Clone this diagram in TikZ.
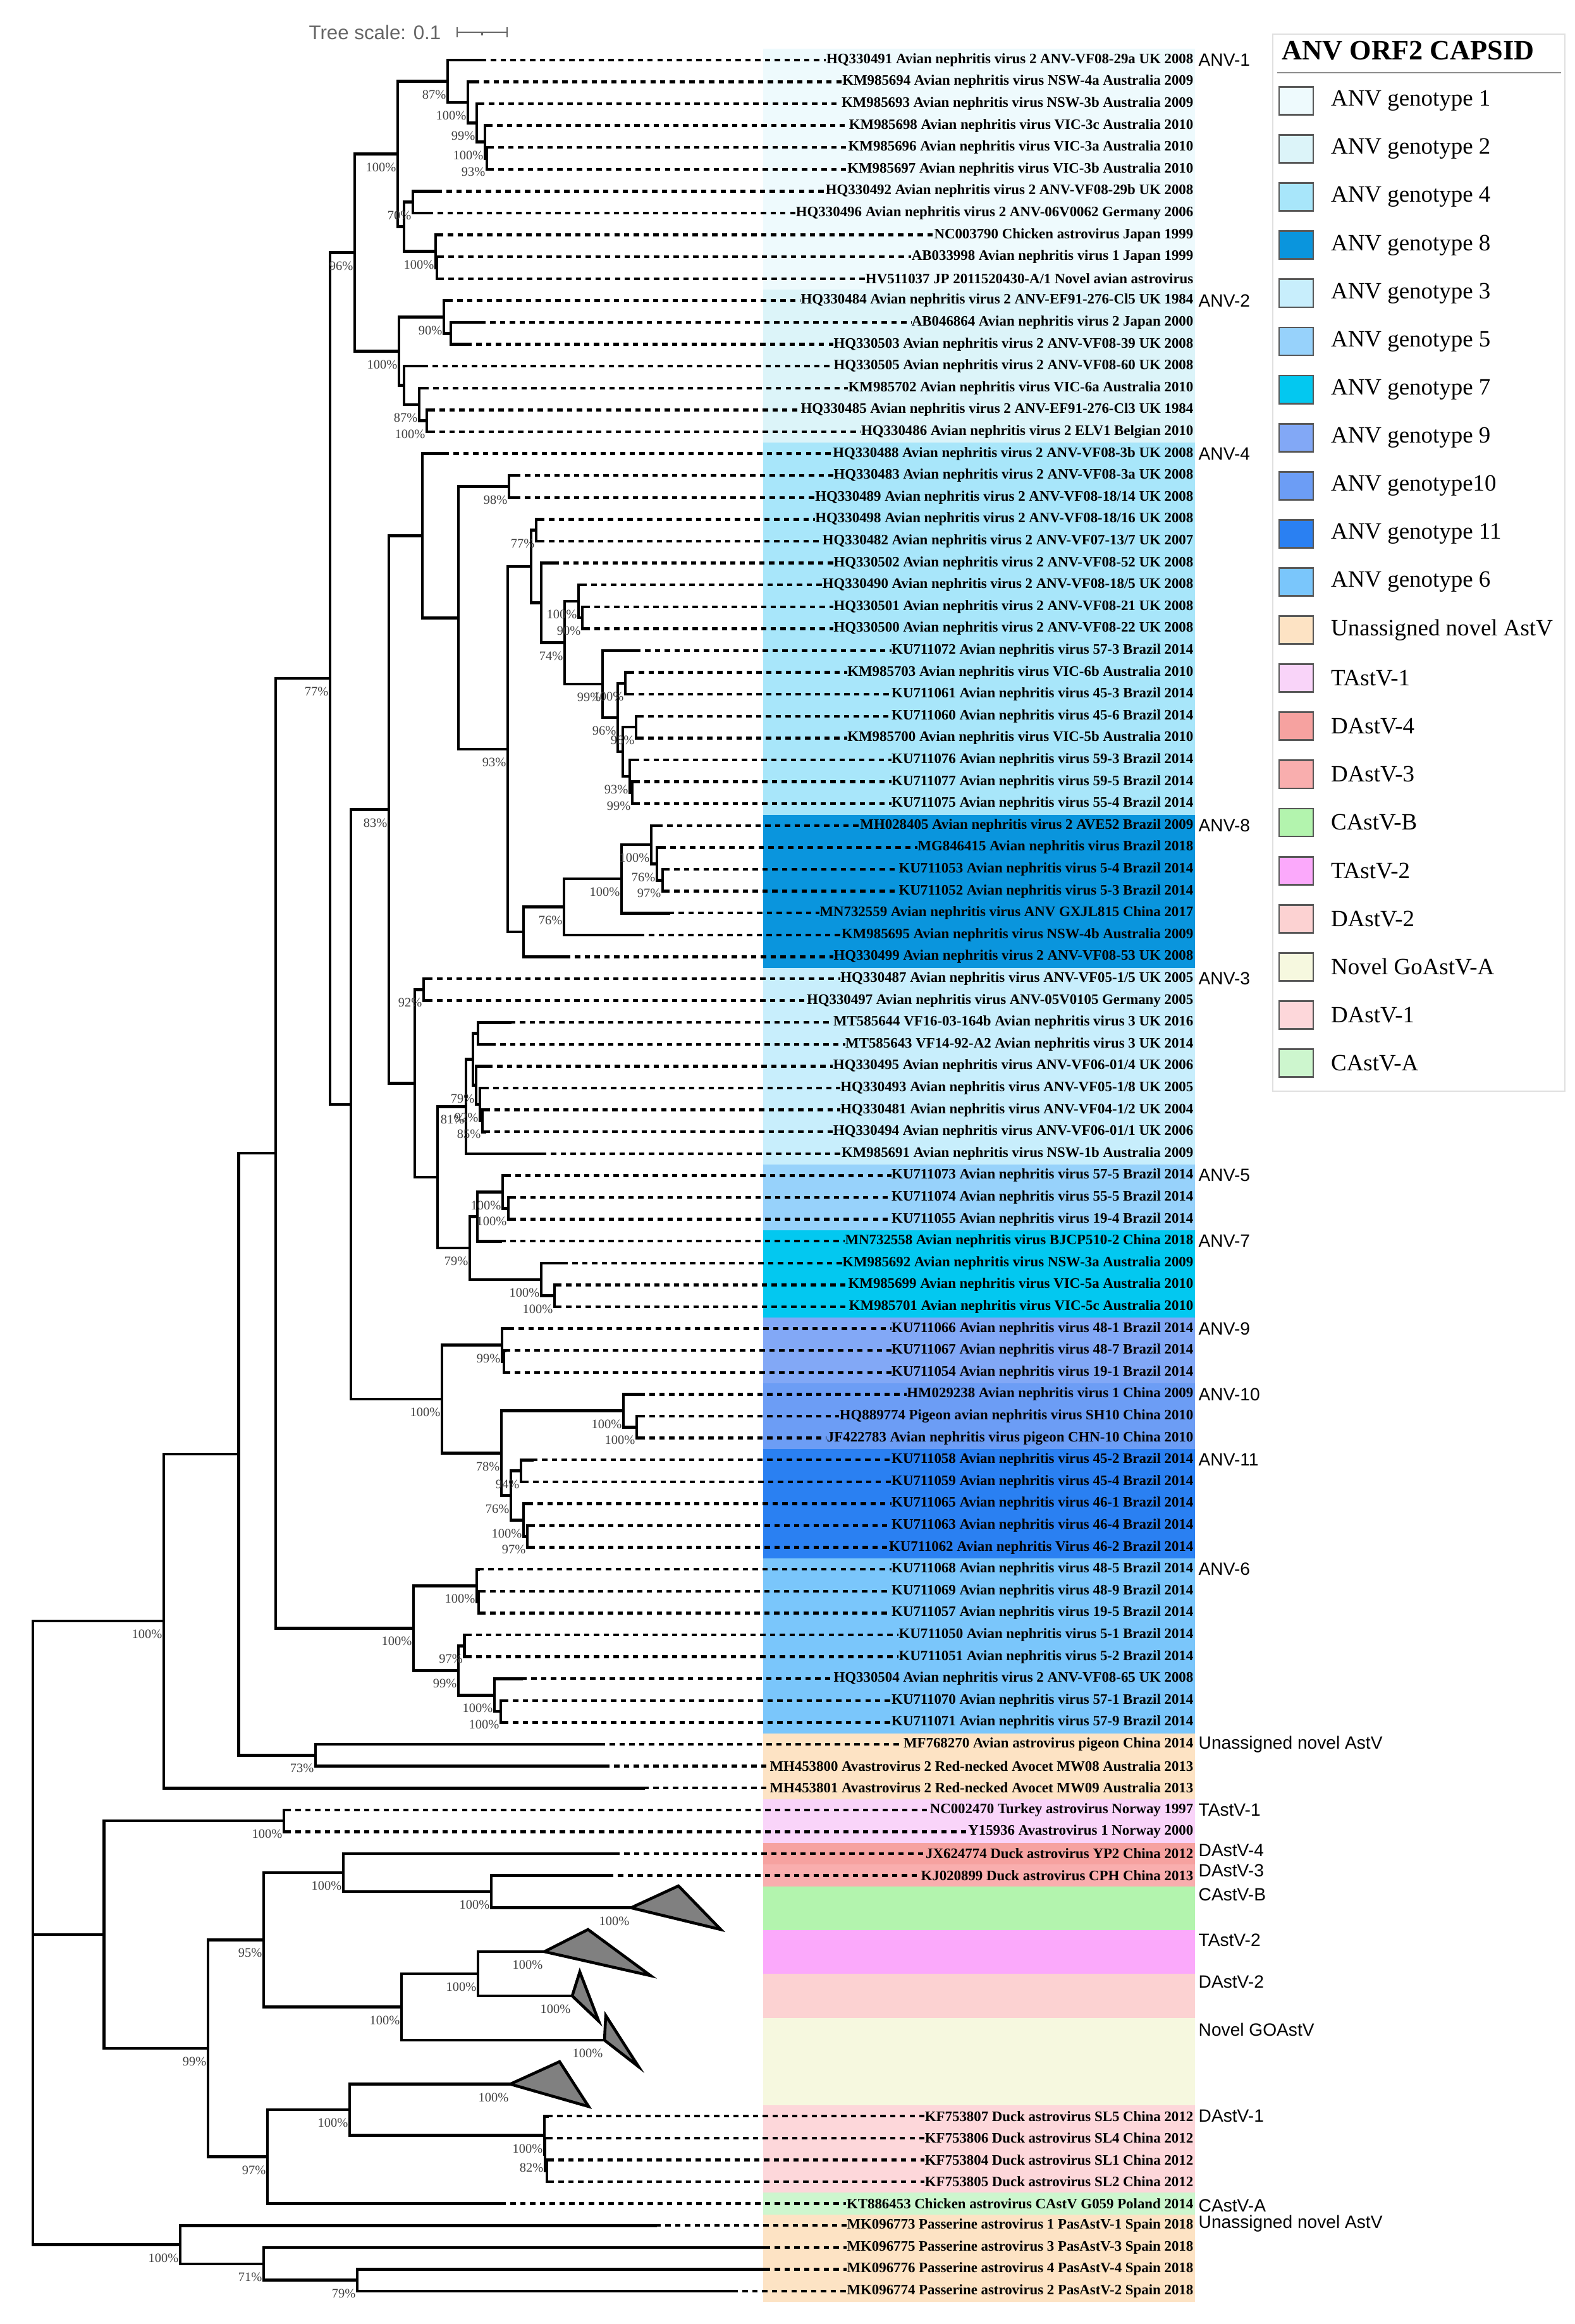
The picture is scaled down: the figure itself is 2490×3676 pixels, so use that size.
\documentclass[tikz,border=0pt]{standalone}
\usepackage{fontspec}
\setmainfont{Liberation Serif}
\newfontfamily\cladefont{Liberation Sans}
\usetikzlibrary{positioning}
\definecolor{g1}{HTML}{EEFAFD}
\definecolor{g2}{HTML}{DCF4F9}
\definecolor{g4}{HTML}{A8E6FA}
\definecolor{g8}{HTML}{0A95DD}
\definecolor{g3}{HTML}{C8EEFC}
\definecolor{g5}{HTML}{97D2FB}
\definecolor{g7}{HTML}{03C8F0}
\definecolor{g9}{HTML}{82A8F6}
\definecolor{g10}{HTML}{6C9DF5}
\definecolor{g11}{HTML}{2A80F2}
\definecolor{g6}{HTML}{7AC6FB}
\definecolor{ua}{HTML}{FDE3C4}
\definecolor{ta1}{HTML}{F9D4F9}
\definecolor{da4}{HTML}{F6A2A0}
\definecolor{da3}{HTML}{F9AEAE}
\definecolor{caB}{HTML}{B3F4AE}
\definecolor{ta2}{HTML}{FBA9FB}
\definecolor{da2}{HTML}{FCD2D2}
\definecolor{gng}{HTML}{F6F8DF}
\definecolor{da1}{HTML}{FDD7DA}
\definecolor{caA}{HTML}{CDF6CE}
\tikzset{
 branch/.style
  = {line width=1.3pt, line cap=rect},
 dotline/.style
  = {line width=1.25pt, dash pattern=on 2.4pt off 2pt},
 leaf/.style
  = {anchor=east, inner sep=0pt, font=\bfseries\fontsize{6.5}{7}\selectfont},
 boot/.style
  = {anchor=east, inner sep=0pt, xshift=-0.2mm, yshift=-2.1mm, text=black!75,
     font=\fontsize{5.8}{6}\selectfont},
 clade/.style
  = {anchor=west, inner sep=0pt, font=\cladefont\fontsize{8}{9}\selectfont},
 collapsed/.style
  = {draw, line width=1.3pt, fill=black!50, line join=miter},
 swatch/.style
  = {draw=black!65, line width=0.8pt, minimum width=0.54cm, minimum height=0.44cm, inner sep=0pt},
 legtext/.style
  = {inner sep=0pt, font=\fontsize{10.5}{12}\selectfont},
}

\begin{document}
\begin{tikzpicture}[x=0.01cm, y=-0.01cm]
\useasboundingbox (0,0) rectangle (2490,3676);

% Colour bands
\foreach \col/\ra/\rb in {g1/1/11, g2/12/18, g4/19/35, g8/36/42, g3/43/51, g5/52/54, g7/55/58,
  g9/59/61, g10/62/64, g11/65/69, g6/70/77, ua/78/80, ta1/81/82, da4/83/83, da3/84/84,
  caB/85/86, ta2/87/88, da2/89/90, gng/91/94, da1/95/98, caA/99/99, ua/100/103}
  \fill[fill=\col] (1207,{42.9+34.6*\ra}) rectangle (1890,{42.9+34.6*(\rb+1)});

% Leaves
\foreach \i/\x/\txt in {
  1/761/{HQ330491 Avian nephritis virus 2 ANV-VF08-29a UK 2008},
  2/750/{KM985694 Avian nephritis virus NSW-4a Australia 2009},
  3/758/{KM985693 Avian nephritis virus NSW-3b Australia 2009},
  4/771/{KM985698 Avian nephritis virus VIC-3c Australia 2010},
  5/773/{KM985696 Avian nephritis virus VIC-3a Australia 2010},
  6/773/{KM985697 Avian nephritis virus VIC-3b Australia 2010},
  7/691/{HQ330492 Avian nephritis virus 2 ANV-VF08-29b UK 2008},
  8/677/{HQ330496 Avian nephritis virus 2 ANV-06V0062 Germany 2006},
  9/693/{NC003790 Chicken astrovirus Japan 1999},
  10/694/{AB033998 Avian nephritis virus 1 Japan 1999},
  11/694/{HV511037 JP 2011520430-A/1 Novel avian astrovirus},
  12/708/{HQ330484 Avian nephritis virus 2 ANV-EF91-276-Cl5 UK 1984},
  13/760/{AB046864 Avian nephritis virus 2 Japan 2000},
  14/738/{HQ330503 Avian nephritis virus 2 ANV-VF08-39 UK 2008},
  15/669/{HQ330505 Avian nephritis virus 2 ANV-VF08-60 UK 2008},
  16/670/{KM985702 Avian nephritis virus VIC-6a Australia 2010},
  17/680/{HQ330485 Avian nephritis virus 2 ANV-EF91-276-Cl3 UK 1984},
  18/680/{HQ330486 Avian nephritis virus 2 ELV1 Belgian 2010},
  19/702/{HQ330488 Avian nephritis virus 2 ANV-VF08-3b UK 2008},
  20/815/{HQ330483 Avian nephritis virus 2 ANV-VF08-3a UK 2008},
  21/815/{HQ330489 Avian nephritis virus 2 ANV-VF08-18/14 UK 2008},
  22/853/{HQ330498 Avian nephritis virus 2 ANV-VF08-18/16 UK 2008},
  23/853/{HQ330482 Avian nephritis virus 2 ANV-VF07-13/7 UK 2007},
  24/876/{HQ330502 Avian nephritis virus 2 ANV-VF08-52 UK 2008},
  25/920/{HQ330490 Avian nephritis virus 2 ANV-VF08-18/5 UK 2008},
  26/925/{HQ330501 Avian nephritis virus 2 ANV-VF08-21 UK 2008},
  27/925/{HQ330500 Avian nephritis virus 2 ANV-VF08-22 UK 2008},
  28/1005/{KU711072 Avian nephritis virus 57-3 Brazil 2014},
  29/995/{KM985703 Avian nephritis virus VIC-6b Australia 2010},
  30/995/{KU711061 Avian nephritis virus 45-3 Brazil 2014},
  31/1010/{KU711060 Avian nephritis virus 45-6 Brazil 2014},
  32/1010/{KM985700 Avian nephritis virus VIC-5b Australia 2010},
  33/1003/{KU711076 Avian nephritis virus 59-3 Brazil 2014},
  34/1004/{KU711077 Avian nephritis virus 59-5 Brazil 2014},
  35/1004/{KU711075 Avian nephritis virus 55-4 Brazil 2014},
  36/1040/{MH028405 Avian nephritis virus 2 AVE52 Brazil 2009},
  37/1045/{MG846415 Avian nephritis virus Brazil 2018},
  38/1051/{KU711053 Avian nephritis virus 5-4 Brazil 2014},
  39/1051/{KU711052 Avian nephritis virus 5-3 Brazil 2014},
  40/1058/{MN732559 Avian nephritis virus ANV GXJL815 China 2017},
  41/1011/{KM985695 Avian nephritis virus NSW-4b Australia 2009},
  42/894/{HQ330499 Avian nephritis virus 2 ANV-VF08-53 UK 2008},
  43/676/{HQ330487 Avian nephritis virus ANV-VF05-1/5 UK 2005},
  44/676/{HQ330497 Avian nephritis virus ANV-05V0105 Germany 2005},
  45/807/{MT585644 VF16-03-164b Avian nephritis virus 3 UK 2016},
  46/776/{MT585643 VF14-92-A2 Avian nephritis virus 3 UK 2014},
  47/771/{HQ330495 Avian nephritis virus ANV-VF06-01/4 UK 2006},
  48/765/{HQ330493 Avian nephritis virus ANV-VF05-1/8 UK 2005},
  49/767/{HQ330481 Avian nephritis virus ANV-VF04-1/2 UK 2004},
  50/767/{HQ330494 Avian nephritis virus ANV-VF06-01/1 UK 2006},
  51/856/{KM985691 Avian nephritis virus NSW-1b Australia 2009},
  52/800/{KU711073 Avian nephritis virus 57-5 Brazil 2014},
  53/808/{KU711074 Avian nephritis virus 55-5 Brazil 2014},
  54/808/{KU711055 Avian nephritis virus 19-4 Brazil 2014},
  55/792/{MN732558 Avian nephritis virus BJCP510-2 China 2018},
  56/890/{KM985692 Avian nephritis virus NSW-3a Australia 2009},
  57/880/{KM985699 Avian nephritis virus VIC-5a Australia 2010},
  58/880/{KM985701 Avian nephritis virus VIC-5c Australia 2010},
  59/805/{KU711066 Avian nephritis virus 48-1 Brazil 2014},
  60/799/{KU711067 Avian nephritis virus 48-7 Brazil 2014},
  61/799/{KU711054 Avian nephritis virus 19-1 Brazil 2014},
  62/1012/{HM029238 Avian nephritis virus 1 China 2009},
  63/1012/{HQ889774 Pigeon avian nephritis virus SH10 China 2010},
  64/1012/{JF422783 Avian nephritis virus pigeon CHN-10 China 2010},
  65/842/{KU711058 Avian nephritis virus 45-2 Brazil 2014},
  66/828/{KU711059 Avian nephritis virus 45-4 Brazil 2014},
  67/835/{KU711065 Avian nephritis virus 46-1 Brazil 2014},
  68/838/{KU711063 Avian nephritis virus 46-4 Brazil 2014},
  69/838/{KU711062 Avian nephritis Virus 46-2 Brazil 2014},
  70/757/{KU711068 Avian nephritis virus 48-5 Brazil 2014},
  71/760/{KU711069 Avian nephritis virus 48-9 Brazil 2014},
  72/760/{KU711057 Avian nephritis virus 19-5 Brazil 2014},
  73/738/{KU711050 Avian nephritis virus 5-1 Brazil 2014},
  74/738/{KU711051 Avian nephritis virus 5-2 Brazil 2014},
  75/825/{HQ330504 Avian nephritis virus 2 ANV-VF08-65 UK 2008},
  76/796/{KU711070 Avian nephritis virus 57-1 Brazil 2014},
  77/796/{KU711071 Avian nephritis virus 57-9 Brazil 2014},
  78/949/{MF768270 Avian astrovirus pigeon China 2014},
  79/956/{MH453800 Avastrovirus 2 Red-necked Avocet MW08 Australia 2013},
  80/1018/{MH453801 Avastrovirus 2 Red-necked Avocet MW09 Australia 2013},
  81/452/{NC002470 Turkey astrovirus Norway 1997},
  82/452/{Y15936 Avastrovirus 1 Norway 2000},
  83/972/{JX624774 Duck astrovirus YP2 China 2012},
  84/962/{KJ020899 Duck astrovirus CPH China 2013},
  95/866/{KF753807 Duck astrovirus SL5 China 2012},
  96/866/{KF753806 Duck astrovirus SL4 China 2012},
  97/868/{KF753804 Duck astrovirus SL1 China 2012},
  98/868/{KF753805 Duck astrovirus SL2 China 2012},
  99/792/{KT886453 Chicken astrovirus CAstV G059 Poland 2014},
  100/1037/{MK096773 Passerine astrovirus 1 PasAstV-1 Spain 2018},
  101/1210/{MK096775 Passerine astrovirus 3 PasAstV-3 Spain 2018},
  102/1210/{MK096776 Passerine astrovirus 4 PasAstV-4 Spain 2018},
  103/1159/{MK096774 Passerine astrovirus 2 PasAstV-2 Spain 2018}} {
  \coordinate (t\i) at (\x,{60.2+34.6*\i});
  \node[leaf] (l\i) at (1888,{60.2+34.6*\i}) {\txt};
  \draw[dotline] (t\i) -- (l\i.west);
}

% Inner nodes
\foreach \nm/\x/\y in {
  FF/52/3057, EE/259/2564, CC/377.5/2300, BB/436/1824, DD/499/2776.3,
  E/522/1073, D/561/399.6, B1/629/243.6,
  A1/708/128.4, A2/740/161.9, A3/754/194.3, A4/767/224.6, A5/770/250.5,
  C/639/358.7, C7/653/319.7, C9/689/397.6, C10/691/423.5,
  F/631/555.5, F2/702/501.4, F3/713/527.3, G/639/609.5, H/663/639.8, I/675/665.7,
  K/555/1746.8, L/615/1280.6, M/668/847.5, O/725/977.3, P/805/769.5, Q/803/1185.1,
  R/840/896.2, R1/848/838.7, R2/856/953.6, R3/893/1016.6, R4/915/951.2, R5/921/977.1,
  T/953/1082, U/977/1135, V/989/1080.9, W/985/1189, W1/1006/1150.1, W2/996/1228, W3/1000/1253.9,
  S/828/1474, S1/892/1434.5, S2/983/1390.2, S3/1030/1336.1, S4/1039/1366.4, S5/1048/1392.3,
  N/656/1713.7, N1/670/1565.3, N2/692/1862.1,
  X/737/1750.2, X1/748/1675.6, X2/756/1634.5, X3/753/1716.7, X4/759/1747, X5/763/1772.9,
  Y/743/1974, Y1/755/1924.3, Y3/795/1885.4, Y4/804/1911.3, Y2/856/2023.8, Y5/877/2049.7,
  Z/699/2213.1, Z1/794/2127.6, Z1b/797/2153.5, Z2/793/2298.5, Z3/986/2231.4, Z4/1007/2257.3,
  Z5/808/2365.5, Z6/824/2326.5, Z7/828/2404.4, Z8/834/2430.3,
  AA/654/2575.3, AA1/754/2508.2, AA1b/757/2534.1, AA2/725/2642.3, AA3/734.5/2603.3,
  AA4/782/2681.2, AA5/792/2707.1,
  GG/164.5/3060, KK/449/2880.1, LL/329/3239.8, MM/417/3068.3, NN/543/2962.1, OO/777/2992.1,
  PP/635/3174.5, QQ/756/3122, RR/423/3411.3, SS/553/3337,
  TT/861/3377.5, TT2/862/3407.8, TT3/865/3433.7,
  HH/285/3550.5, II/417/3580.8, JJ/565/3606.7,
  cB/998/3017.6, cT2/861/3087, cD2/905/3157, cNG/956/3227, cD1/807/3296.5}
  \coordinate (\nm) at (\x,\y);

% Branches
\foreach \p/\q in {FF/EE, FF/GG, FF/HH, EE/CC, EE/t80, CC/BB, CC/DD, DD/t78, DD/t79,
  BB/E, BB/AA, E/D, E/K, D/B1, D/F, B1/A1, B1/C,
  A1/t1, A1/A2, A2/t2, A2/A3, A3/t3, A3/A4, A4/t4, A4/A5, A5/t5, A5/t6,
  C/C7, C/C9, C7/t7, C7/t8, C9/t9, C9/C10, C10/t10, C10/t11,
  F/F2, F/G, F2/t12, F2/F3, F3/t13, F3/t14, G/t15, G/H, H/t16, H/I, I/t17, I/t18,
  K/L, K/Z, L/M, L/N, M/t19, M/O, O/P, O/Q, P/t20, P/t21,
  Q/R, Q/S, R/R1, R/R2, R1/t22, R1/t23, R2/t24, R2/R3, R3/R4, R3/T, R4/t25, R4/R5, R5/t26, R5/t27,
  T/t28, T/U, U/V, U/W, V/t29, V/t30, W/W1, W/W2, W1/t31, W1/t32, W2/t33, W2/W3, W3/t34, W3/t35,
  S/S1, S/t42, S1/S2, S1/t41, S2/S3, S2/t40, S3/t36, S3/S4, S4/t37, S4/S5, S5/t38, S5/t39,
  N/N1, N/N2, N1/t43, N1/t44, N2/X, N2/Y,
  X/X1, X/t51, X1/X2, X1/X3, X2/t45, X2/t46, X3/t47, X3/X4, X4/t48, X4/X5, X5/t49, X5/t50,
  Y/Y1, Y/Y2, Y1/Y3, Y1/t55, Y3/t52, Y3/Y4, Y4/t53, Y4/t54, Y2/t56, Y2/Y5, Y5/t57, Y5/t58,
  Z/Z1, Z/Z2, Z1/t59, Z1/Z1b, Z1b/t60, Z1b/t61,
  Z2/Z3, Z2/Z5, Z3/t62, Z3/Z4, Z4/t63, Z4/t64, Z5/Z6, Z5/Z7, Z6/t65, Z6/t66, Z7/t67, Z7/Z8, Z8/t68, Z8/t69,
  AA/AA1, AA/AA2, AA1/t70, AA1/AA1b, AA1b/t71, AA1b/t72, AA2/AA3, AA2/AA4, AA3/t73, AA3/t74,
  AA4/t75, AA4/AA5, AA5/t76, AA5/t77,
  GG/KK, GG/LL, KK/t81, KK/t82, LL/MM, LL/RR, MM/NN, MM/PP, NN/t83, NN/OO, OO/t84, OO/cB,
  PP/QQ, PP/cNG, QQ/cT2, QQ/cD2,
  RR/SS, RR/t99, SS/cD1, SS/TT, TT/t95, TT/TT2, TT2/t96, TT2/TT3, TT3/t97, TT3/t98,
  HH/t100, HH/II, II/t101, II/JJ, JJ/t102, JJ/t103}
  \draw[branch] (\p) |- (\q);

% Collapsed clades
\draw[collapsed] (cB) -- (1073,2983) -- (1140,3052) -- cycle;
\draw[collapsed] (cT2) -- (930,3052) -- (1029,3125) -- cycle;
\draw[collapsed] (cD2) -- (917,3119) -- (947,3197) -- cycle;
\draw[collapsed] (cNG) -- (958,3188) -- (1010,3269) -- cycle;
\draw[collapsed] (cD1) -- (885,3261) -- (931,3332) -- cycle;

% Bootstrap values
\foreach \nm/\v in {A1/87, A2/100, A3/99, A4/100, A5/93, C7/70, C9/100, B1/100, D/96,
  F2/90, F/100, H/87, I/100, E/77, P/98, R1/77, R4/100, R5/90, R3/74, T/99, V/100, U/96,
  W1/98, W2/93, W3/99, Q/93, S3/100, S4/76, S5/97, S2/100, S1/76, L/83,
  N1/92, X/81, X3/79, X4/92, X5/85, Y/79, Y3/100, Y4/100, Y2/100, Y5/100,
  Z/100, Z1/99, Z2/78, Z3/100, Z4/100, Z5/76, Z6/94, Z7/100, Z8/97,
  AA/100, AA1/100, AA2/99, AA3/97, AA4/100, AA5/100, DD/73, EE/100,
  KK/100, NN/100, OO/100, cB/100, MM/95, PP/100, QQ/100, cT2/100, cD2/100, cNG/100,
  LL/99, SS/100, cD1/100, TT/100, TT2/82, RR/97, HH/100, II/71, JJ/79}
  \node[boot] (b\nm) at (\nm) {\v\%};

% Clade names
\foreach \txt/\rw [count=\k] in {ANV-1/1, ANV-2/12, ANV-4/19, ANV-8/36, ANV-3/43, ANV-5/52,
  ANV-7/55, ANV-9/59, ANV-10/62, ANV-11/65, ANV-6/70, Unassigned novel AstV/78, TAstV-1/81,
  DAstV-4/82.86, DAstV-3/83.78, CAstV-B/84.86, TAstV-2/86.96, DAstV-2/88.87,
  Novel GOAstV/91.06, DAstV-1/95, CAstV-A/99.1, Unassigned novel AstV/99.9}
  \node[clade] (c\k) at (1895,{60.2+34.6*\rw}) {\txt};

% Tree scale
\node[anchor=east, inner sep=0pt, text=black!60, font=\cladefont\fontsize{8.9}{10}\selectfont]
  (scale) at (698,51) {Tree scale: 0.1};
\coordinate (sb1) at (723,51);
\coordinate (sb2) at (802,51);
\coordinate (sbm) at (762.5,51);
\draw[black!60, line width=0.8pt] (sb1) -- (sb2);
\draw[black!60, line width=0.8pt] ([yshift=0.8mm]sb1) -- ([yshift=-0.8mm]sb1);
\draw[black!60, line width=0.8pt] ([yshift=0.8mm]sb2) -- ([yshift=-0.8mm]sb2);
\draw[black!60, line width=0.6pt] (sbm) -- ([yshift=-0.5mm]sbm);

% Legend
\draw[black!12, line width=0.8pt] (2013,54) rectangle (2475,1726);
\node[anchor=west, inner sep=0pt, font=\bfseries\fontsize{12.6}{14}\selectfont]
  (legtitle) at (2027,80) {ANV ORF2 CAPSID};
\draw[black!45, line width=0.6pt] (2020,115) -- (2469,115);
\foreach \col/\txt [count=\k] in {g1/ANV genotype 1, g2/ANV genotype 2, g4/ANV genotype 4,
  g8/ANV genotype 8, g3/ANV genotype 3, g5/ANV genotype 5, g7/ANV genotype 7,
  g9/ANV genotype 9, g10/ANV genotype10, g11/ANV genotype 11, g6/ANV genotype 6,
  ua/Unassigned novel AstV, ta1/TAstV-1, da4/DAstV-4, da3/DAstV-3, caB/CAstV-B,
  ta2/TAstV-2, da2/DAstV-2, gng/Novel GoAstV-A, da1/DAstV-1, caA/CAstV-A} {
  \node[swatch, fill=\col] (s\k) at (2050,{159.5+76.1*(\k-1)}) {};
  \node[legtext, right=0.26cm of s\k] (e\k) {\txt};
}

\end{tikzpicture}
\end{document}
